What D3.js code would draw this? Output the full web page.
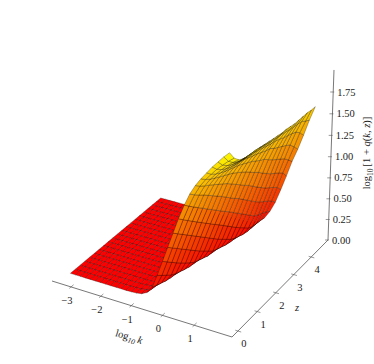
<!DOCTYPE html>
<html>
<head>
<meta charset="utf-8">
<style>
html, body { margin: 0; padding: 0; background: #fff; }
svg { display: block; }
text { font-family: "Liberation Serif", serif; fill: #222; }
</style>
<script src="https://cdn.jsdelivr.net/npm/d3@7"></script>
</head>
<body>
<div id="chart"></div>
<script>
// k columns (log10 k) and z rows of the surface
var kValues = [-3.42,-3.25,-3.08,-2.91,-2.74,-2.57,-2.40,-2.23,-2.05,-1.88,-1.71,-1.54,-1.37,-1.20,-1.03,-0.86,-0.69,-0.52,-0.35,-0.18,-0.01,0.16,0.34,0.51,0.68,0.85,1.02,1.19,1.36,1.53,1.70];
var zValues = [0.25,0.48,0.71,0.94,1.17,1.40,1.63,1.86,2.09,2.32,2.55,2.78,3.01,3.24,3.47,3.70,3.93,4.16,4.39,4.62,4.85];

// log10[1+q(k,z)], one row per z
var heights = [
[0,0,0,0,0,0,0,0,0,0,0,0,.002,.006,.018,.05,.13,.29,.47,.65,.83,1.01,1.18,1.32,1.43,1.52,1.60,1.68,1.75,1.82,1.88],
[0,0,0,0,0,0,0,0,0,0,0,0,.001,.005,.014,.04,.106,.24,.416,.596,.776,.953,1.124,1.267,1.38,1.469,1.543,1.613,1.674,1.731,1.78],
[0,0,0,0,0,0,0,0,0,0,0,0,.001,.004,.011,.031,.082,.194,.362,.542,.722,.898,1.069,1.22,1.338,1.429,1.502,1.566,1.625,1.676,1.72],
[0,0,0,0,0,0,0,0,0,0,0,0,0,.002,.007,.021,.058,.146,.308,.488,.668,.843,1.017,1.175,1.302,1.397,1.471,1.533,1.593,1.641,1.685],
[0,0,0,0,0,0,0,0,0,0,0,0,0,.002,.005,.016,.044,.114,.258,.434,.614,.789,.964,1.127,1.263,1.366,1.445,1.509,1.57,1.62,1.665],
[0,0,0,0,0,0,0,0,0,0,0,0,0,.001,.004,.012,.034,.09,.21,.38,.56,.736,.91,1.078,1.223,1.336,1.422,1.491,1.553,1.608,1.655],
[0,0,0,0,0,0,0,0,0,0,0,0,0,.001,.003,.008,.024,.066,.162,.326,.506,.682,.858,1.029,1.184,1.308,1.402,1.476,1.54,1.60,1.65],
[0,0,0,0,0,0,0,0,0,0,0,0,0,0,.002,.006,.017,.047,.122,.274,.452,.629,.805,.98,1.144,1.278,1.381,1.462,1.53,1.595,1.65],
[0,0,0,0,0,0,0,0,0,0,0,0,0,0,.001,.004,.013,.037,.098,.226,.398,.575,.752,.927,1.095,1.24,1.353,1.441,1.513,1.58,1.64],
[0,0,0,0,0,0,0,0,0,0,0,0,0,0,0,.003,.010,.028,.074,.178,.344,.524,.699,.875,1.046,1.201,1.324,1.419,1.497,1.565,1.63],
[0,0,0,0,0,0,0,0,0,0,0,0,0,0,0,.002,.006,.018,.05,.13,.29,.47,.65,.822,.998,1.162,1.296,1.398,1.48,1.55,1.62],
[0,0,0,0,0,0,0,0,0,0,0,0,0,0,0,.001,.005,.014,.04,.106,.242,.416,.596,.776,.946,1.116,1.259,1.373,1.462,1.538,1.61],
[0,0,0,0,0,0,0,0,0,0,0,0,0,0,0,0,.004,.011,.031,.082,.194,.362,.542,.722,.902,1.068,1.223,1.347,1.445,1.526,1.60],
[0,0,0,0,0,0,0,0,0,0,0,0,0,0,0,0,.002,.007,.021,.058,.146,.308,.488,.668,.848,1.027,1.194,1.331,1.434,1.521,1.60],
[0,0,0,0,0,0,0,0,0,0,0,0,0,0,0,0,0,.005,.016,.044,.114,.258,.434,.614,.794,.974,1.146,1.292,1.412,1.507,1.59],
[0,0,0,0,0,0,0,0,0,0,0,0,0,0,0,0,0,.004,.012,.034,.09,.21,.38,.56,.744,.926,1.103,1.261,1.388,1.492,1.58],
[0,0,0,0,0,0,0,0,0,0,0,0,0,0,0,0,0,.002,.008,.024,.066,.162,.326,.512,.695,.879,1.062,1.231,1.371,1.484,1.58],
[0,0,0,0,0,0,0,0,0,0,0,0,0,0,0,0,0,0,.006,.021,.054,.134,.292,.471,.654,.841,1.025,1.2,1.352,1.476,1.58],
[0,0,0,0,0,0,0,0,0,0,0,0,0,0,0,0,0,0,.004,.02,.05,.123,.268,.431,.613,.802,.987,1.163,1.328,1.465,1.58],
[0,0,0,0,0,0,0,0,0,0,0,0,0,0,0,0,0,0,.002,.02,.048,.115,.238,.389,.569,.76,.93,1.10,1.28,1.43,1.57],
[0,0,0,0,0,0,0,0,0,0,0,0,0,0,0,0,0,0,0,.02,.045,.10,.20,.33,.50,.68,.87,1.03,1.21,1.40,1.57]
];

var kTicks = [-3,-2,-1,0,1];
var zTicks = [0,1,2,3,4];
var hTicks = [0,0.25,0.5,0.75,1,1.25,1.5,1.75];

var width = 374, height = 364;
var kDomain = [-3.65, 2.16], zDomain = [-0.3, 5.0], hDomain = [0, 2];

// screen corners of the floor box, and where the vertical edges converge
var cornerA = [52,281], cornerB = [232,337], cornerC = [328,240], cornerD = [157,194];
var vanish = [185,4300];

var uScale = d3.scaleLinear().domain(kDomain).range([0,1]);
var vScale = d3.scaleLinear().domain(zDomain).range([0,1]);

// unit square -> floor quad
var dx1 = cornerB[0]-cornerC[0], dx2 = cornerD[0]-cornerC[0], sx = cornerA[0]-cornerB[0]+cornerC[0]-cornerD[0];
var dy1 = cornerB[1]-cornerC[1], dy2 = cornerD[1]-cornerC[1], sy = cornerA[1]-cornerB[1]+cornerC[1]-cornerD[1];
var den = dx1*dy2-dx2*dy1;
var g = (sx*dy2-dx2*sy)/den, h = (dx1*sy-sx*dy1)/den;
var a = cornerB[0]-cornerA[0]+g*cornerB[0], b = cornerD[0]-cornerA[0]+h*cornerD[0];
var d = cornerB[1]-cornerA[1]+g*cornerB[1], e = cornerD[1]-cornerA[1]+h*cornerD[1];

// height tick 1.75 sits at y=92 on the vertical axis
var wC = 1+g+h;
var hScale = d3.scaleLinear().domain([0,1.75]).range([0, 148*wC/(92-vanish[1])]);

function project(k, z, y) {
	var u = uScale(k), v = vScale(z), t = hScale(y);
	var w = 1+g*u+h*v+t;
	return {
		x: (a*u+b*v+cornerA[0]+t*vanish[0])/w,
		y: (d*u+e*v+cornerA[1]+t*vanish[1])/w,
		w: w
	};
}

var maxH = d3.max(heights, function(r) { return d3.max(r); });
var tScale = d3.scaleLinear().domain([0,maxH]).range([0,1]);

// autumn colormap, darkened a little on steep cells
function faceColor(mean, slope) {
	var shade = 1-0.04*Math.min(1,Math.abs(slope));
	return d3.rgb(255*shade, 255*tScale(mean)*shade, 0).toString();
}

var cells = [];
for (var j = 0; j < zValues.length-1; j++) {
	for (var i = 0; i < kValues.length-1; i++) {
		var h00 = heights[j][i], h01 = heights[j][i+1], h10 = heights[j+1][i], h11 = heights[j+1][i+1];
		var pts = [
			project(kValues[i],zValues[j],h00),
			project(kValues[i+1],zValues[j],h01),
			project(kValues[i+1],zValues[j+1],h11),
			project(kValues[i],zValues[j+1],h10)
		];
		cells.push({
			pts: pts,
			depth: d3.mean(pts, function(p) { return p.w; }),
			fill: faceColor((h00+h01+h10+h11)/4, ((h01-h00)+(h11-h10))/2/(kValues[i+1]-kValues[i]))
		});
	}
}
// painter's order, far cells first
cells.sort(function(p, q) { return q.depth-p.depth; });

var svg = d3.select("#chart").append("svg")
	.attr("width", width)
	.attr("height", height);

var axisColor = "#555";
var line = d3.line().x(function(p) { return p.x; }).y(function(p) { return p.y; });

function drawSeg(p, q, w) {
	svg.append("path").attr("d", line([p,q]))
		.attr("fill","none").attr("stroke",axisColor).attr("stroke-width",w);
}

// axes
drawSeg(project(kDomain[0],zDomain[0],0), project(kDomain[1],zDomain[0],0), 0.8);
drawSeg(project(kDomain[1],zDomain[0],0), project(kDomain[1],zDomain[1],0), 0.8);
drawSeg(project(kDomain[1],zDomain[1],0), project(kDomain[1],zDomain[1],hDomain[1]), 0.8);

kTicks.forEach(function(t) {
	var p = project(t,zDomain[0],0);
	drawSeg(project(t,zDomain[0]-0.08,0), project(t,zDomain[0]+0.12,0), 0.6);
	svg.append("text").attr("x",p.x-4).attr("y",p.y+17).attr("text-anchor","middle")
		.style("font-size","10.5px").text(t < 0 ? "\u2212"+Math.abs(t) : t);
});
zTicks.forEach(function(t) {
	var p = project(kDomain[1],t,0);
	drawSeg(project(kDomain[1]-0.08,t,0), project(kDomain[1]+0.1,t,0), 0.6);
	svg.append("text").attr("x",p.x+6).attr("y",p.y+16).attr("text-anchor","middle")
		.style("font-size","10.5px").text(t);
});
hTicks.forEach(function(t) {
	var p = project(kDomain[1],zDomain[1],t);
	drawSeg({x:p.x-3,y:p.y}, {x:p.x+1,y:p.y}, 0.6);
	svg.append("text").attr("x",p.x+4).attr("y",p.y+3.6)
		.style("font-size","10.5px").text(d3.format(".2f")(t));
});

// surface
svg.append("g").selectAll("path").data(cells).join("path")
	.attr("d", function(c) { return line(c.pts)+"Z"; })
	.attr("fill", function(c) { return c.fill; })
	.attr("stroke", "#000")
	.attr("stroke-opacity", 0.6)
	.attr("stroke-width", 0.45)
	.attr("stroke-linejoin", "round");

// axis titles
var kLabel = svg.append("text").attr("transform","translate(128,340) rotate(17)")
	.attr("text-anchor","middle").style("font-size","10.5px");
kLabel.append("tspan").text("log");
kLabel.append("tspan").attr("dy",2.5).style("font-size","7.5px").style("font-style","italic").text("10");
kLabel.append("tspan").attr("dy",-2.5).attr("dx",2).style("font-style","italic").text("k");

svg.append("text").attr("x",297).attr("y",311).attr("text-anchor","middle")
	.style("font-size","10.5px").style("font-style","italic").text("z");

var hLabel = svg.append("text").attr("transform","translate(370,153) rotate(-90)")
	.attr("text-anchor","middle").style("font-size","10.5px");
hLabel.append("tspan").text("log");
hLabel.append("tspan").attr("dy",2.5).style("font-size","7.5px").text("10");
hLabel.append("tspan").attr("dy",-2.5).attr("dx",2).text("[1 + ");
hLabel.append("tspan").style("font-style","italic").text("q");
hLabel.append("tspan").text("(");
hLabel.append("tspan").style("font-style","italic").text("k");
hLabel.append("tspan").text(", ");
hLabel.append("tspan").style("font-style","italic").text("z");
hLabel.append("tspan").text(")]");
</script>
</body>
</html>
